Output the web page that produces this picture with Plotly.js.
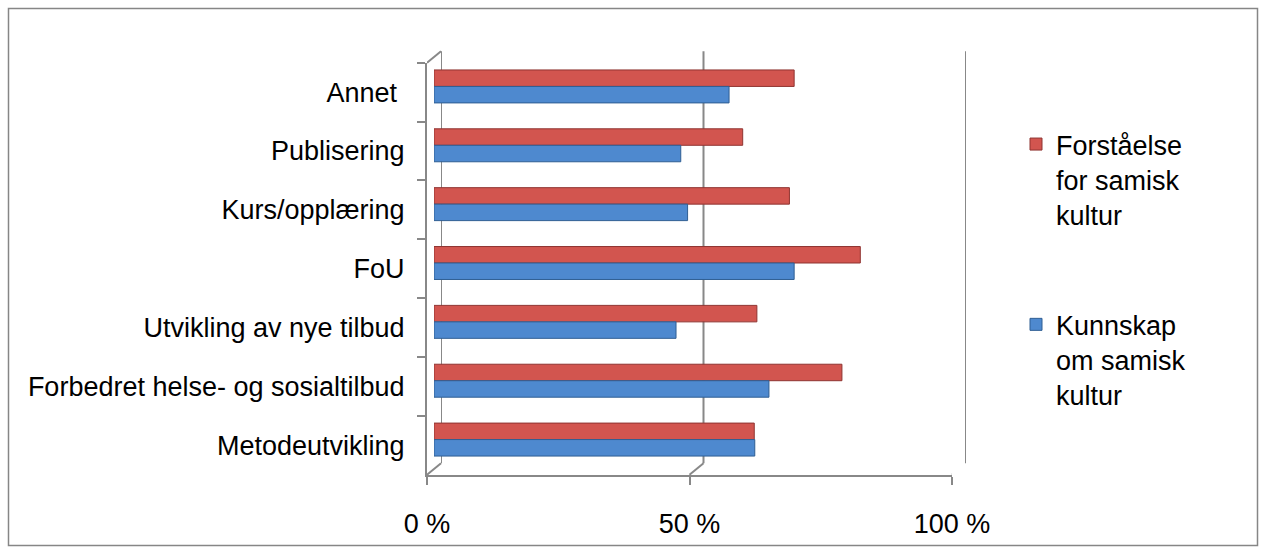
<!DOCTYPE html>
<html>
<head>
<meta charset="utf-8">
<script src="https://cdn.plot.ly/plotly-3.0.1.min.js"></script>
<style>
  html, body { margin: 0; padding: 0; background: #ffffff; }
  #chart { width: 1266px; height: 552px; }
</style>
</head>
<body>
<div id="chart"></div>
<script>
// Categories, listed top to bottom as they appear on the chart
const categories = ['Annet ', 'Publisering', 'Kurs/opplæring', 'FoU',
  'Utvikling av nye tilbud', 'Forbedret helse- og sosialtilbud', 'Metodeutvikling'];

// Share of answers (%) per series
const forstaelse = [68.6, 58.8, 67.7, 81.2, 61.5, 77.7, 61.0];
const kunnskap   = [56.2, 47.0, 48.3, 68.6, 46.1, 63.8, 61.1];

const seriesNames = ['Forståelse<br>for samisk<br>kultur', 'Kunnskap<br>om samisk<br>kultur'];
const xTicks = [0, 50, 100];
const xTickText = xTicks.map(v => v + ' %');

// ---- geometry helpers (pixel -> paper) ----
const W = 1266, H = 552;
const M = { l: 420, r: 291, t: 45, b: 67 };
const PW = W - M.l - M.r, PH = H - M.t - M.b;
const px = p => (p - M.l) / PW;
const py = p => (H - M.b - p) / PH;

// Bars sit at mid depth; the back wall and front edges are offset from it
const mid = { x0: 434, x1: 959, y0: 57, y1: 469 };
const dx = 7, dy = 5.75;
const box = (ox, oy) => ({
  x: [px(mid.x0 + ox), px(mid.x1 + ox)],
  y: [py(mid.y1 + oy), py(mid.y0 + oy)]
});
const midBox = box(0, 0), backBox = box(dx, -dy), frontBox = box(-dx, dy);

const frameColor = '#888888';
const frameWidth = 2;
const font = { family: 'Liberation Sans, Arial, sans-serif', size: 27, color: '#000000' };
const catRange = [categories.length - 0.5, -0.5];

const traces = [
  {
    type: 'bar', orientation: 'h', name: seriesNames[0], legendgroup: 'f',
    x: forstaelse, y: categories, xaxis: 'x', yaxis: 'y',
    marker: { color: '#D2554F', line: { color: '#8F3431', width: 1 } },
    hoverinfo: 'skip'
  },
  {
    type: 'bar', orientation: 'h', name: seriesNames[1], legendgroup: 'k',
    x: kunnskap, y: categories, xaxis: 'x', yaxis: 'y',
    marker: { color: '#4E89CF', line: { color: '#2F5E93', width: 1 } },
    hoverinfo: 'skip'
  },
  // carriers for the back wall and front axes (not drawn)
  {
    type: 'scatter', mode: 'markers', x: kunnskap, y: categories,
    xaxis: 'x2', yaxis: 'y2', marker: { opacity: 0 }, showlegend: false, hoverinfo: 'skip'
  },
  {
    type: 'scatter', mode: 'markers', x: kunnskap, y: categories,
    xaxis: 'x3', yaxis: 'y3', marker: { opacity: 0 }, showlegend: false, hoverinfo: 'skip'
  }
];

const lineStyle = { color: frameColor, width: frameWidth };
const shapes = [];
// back wall lines at each tick value
xTicks.forEach(v => shapes.push({
  type: 'line', xref: 'x2', x0: v, x1: v, layer: 'below',
  yref: 'paper', y0: backBox.y[0], y1: backBox.y[1], line: lineStyle
}));
// floor edges joining the front axis to the back wall
xTicks.forEach(v => shapes.push({
  type: 'line', xref: 'x3', xsizemode: 'pixel', xanchor: v, x0: 0, x1: 2 * dx,
  yref: 'paper', y0: py(mid.y1 + dy), y1: py(mid.y1 - dy), line: lineStyle
}));
// top edge of the side wall
shapes.push({
  type: 'line', xref: 'x3', xsizemode: 'pixel', xanchor: 0, x0: 0, x1: 2 * dx,
  yref: 'paper', y0: py(mid.y0 + dy), y1: py(mid.y0 - dy), line: lineStyle
});
// chart border
shapes.push({
  type: 'rect', xref: 'paper', yref: 'paper',
  x0: px(8.5), x1: px(1257.5), y0: py(545.5), y1: py(8.5),
  line: { color: '#868686', width: 1.5 }
});

const layout = {
  width: W, height: H,
  margin: M,
  paper_bgcolor: '#ffffff', plot_bgcolor: 'rgba(0,0,0,0)',
  font: font,
  barmode: 'group', bargap: 0.44, bargroupgap: 0,
  hovermode: false,
  showlegend: true,
  legend: {
    x: px(1016), xanchor: 'left', y: py(120), yanchor: 'top',
    traceorder: 'grouped', tracegroupgap: 72, valign: 'top',
    font: font, bgcolor: 'rgba(0,0,0,0)'
  },
  xaxis: {
    domain: midBox.x, anchor: 'y', range: [0, 100],
    showgrid: false, zeroline: false, showline: false, showticklabels: false, ticks: ''
  },
  yaxis: {
    domain: midBox.y, anchor: 'x', type: 'category', categoryarray: categories,
    range: catRange, showgrid: false, zeroline: false, showline: false,
    showticklabels: false, ticks: ''
  },
  // back wall
  xaxis2: {
    domain: backBox.x, anchor: 'y2', range: [0, 100],
    showgrid: false, zeroline: false, showline: false, showticklabels: false, ticks: ''
  },
  yaxis2: {
    domain: backBox.y, anchor: 'x2', type: 'category', categoryarray: categories,
    range: catRange, showgrid: false, zeroline: false, showline: false,
    showticklabels: false, ticks: ''
  },
  // front edges carrying the tick labels
  xaxis3: {
    domain: frontBox.x, anchor: 'y3', range: [0, 100],
    tickmode: 'array', tickvals: xTicks, ticktext: xTickText,
    showgrid: false, zeroline: false,
    showline: true, linecolor: frameColor, linewidth: frameWidth,
    ticks: 'outside', ticklen: 8, tickwidth: frameWidth, tickcolor: frameColor,
    ticklabelstandoff: 16, tickfont: font
  },
  yaxis3: {
    domain: frontBox.y, anchor: 'x3', type: 'category', categoryarray: categories,
    range: catRange, tickson: 'boundaries',
    showgrid: false, zeroline: false,
    showline: true, linecolor: frameColor, linewidth: frameWidth,
    ticks: 'outside', ticklen: 8, tickwidth: frameWidth, tickcolor: frameColor,
    ticklabelstandoff: 15, tickfont: font
  },
  shapes: shapes
};

Plotly.newPlot('chart', traces, layout, { staticPlot: true, displayModeBar: false });
</script>
</body>
</html>
